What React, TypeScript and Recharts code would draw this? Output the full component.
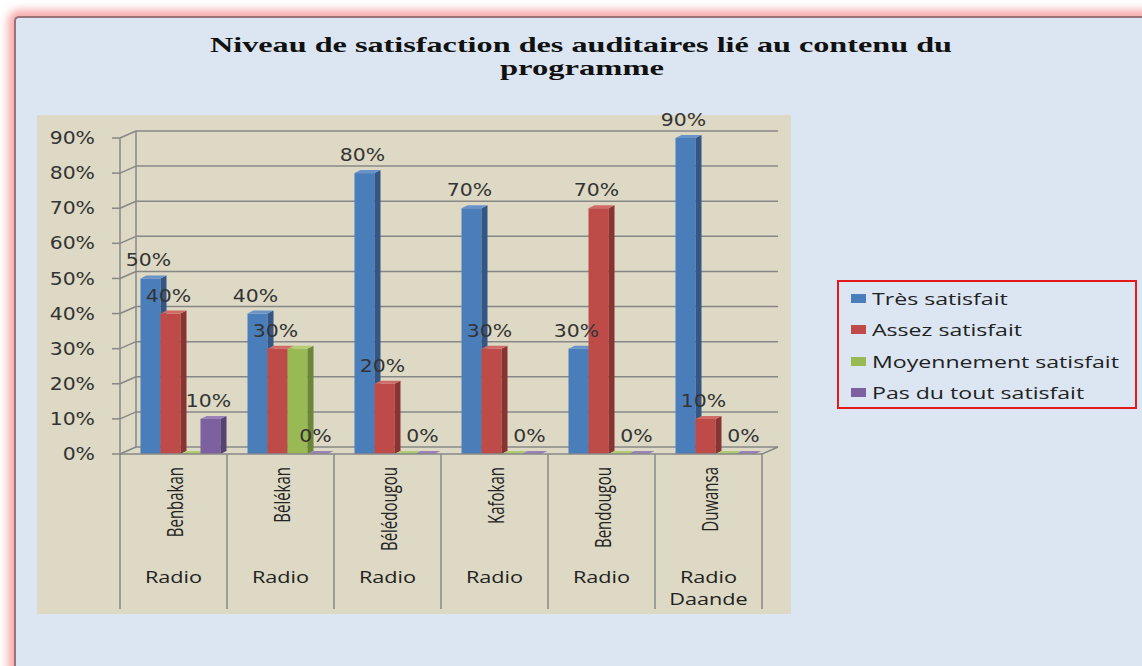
import React from 'react';
import { BarChart, Bar, XAxis, YAxis, CartesianGrid, LabelList } from 'recharts';

// ---- data ----
const categories = ['Benbakan', 'Bélékan', 'Bélédougou', 'Kafokan', 'Bendougou', 'Duwansa'];
const groupLabels = ['Radio', 'Radio', 'Radio', 'Radio', 'Radio', 'Radio Daande'];
const tresSatisfait = [50, 40, 80, 70, 30, 90];
const assezSatisfait = [40, 30, 20, 30, 70, 10];
const moyennementSatisfait = [0, 30, 0, 0, 0, 0];
const pasDuToutSatisfait = [10, 0, 0, 0, 0, 0];
const yTicks = [0, 10, 20, 30, 40, 50, 60, 70, 80, 90];
const seriesNames = ['Très satisfait', 'Assez satisfait', 'Moyennement satisfait', 'Pas du tout satisfait'];
const seriesKeys = ['tres', 'assez', 'moyen', 'pas'];
const titleLines = ['Niveau de satisfaction des auditaires lié au contenu du', 'programme'];

// ---- styles ----
const frontColors = ['#4a7ebb', '#be4b48', '#98b954', '#7d60a0'];
const sideColors = ['#335684', '#8a3432', '#6c8637', '#574373'];
const topColors = ['#6893c8', '#cf6a67', '#b2cc72', '#9a82b9'];
const labelSeries = [true, true, false, true];

const W = 1142;
const H = 666;
const PLOT_LEFT = 120;
const PLOT_RIGHT = 762;
const PLOT_TOP = 138;
const PLOT_BOTTOM = 454;
const DX = 16;
const DY = 7;
const YAXIS_W = 80;
const XAXIS_H = 160;
const BAR_SHIFT = 6.5;
const AXIS_COLOR = '#878787';
const STRETCH = 1.4;

const data = categories.map((c, i) => ({
  name: c,
  tres: tresSatisfait[i],
  assez: assezSatisfait[i],
  moyen: moyennementSatisfait[i],
  pas: pasDuToutSatisfait[i],
}));

const makeBar3D = (si: number) => (props: any) => {
  const { x, y, width, height } = props;
  if (x == null || y == null) return <g />;
  const bx = x + BAR_SHIFT;
  const d = 6;
  const dy = 3;
  const h = Math.max(0, height || 0);
  return (
    <g>
      <rect x={bx} y={y} width={width} height={h} fill={frontColors[si]} />
      <polygon
        points={`${bx + width},${y} ${bx + width + d},${y - dy} ${bx + width + d},${y + h - dy} ${bx + width},${y + h}`}
        fill={sideColors[si]}
      />
      <polygon
        points={`${bx},${y} ${bx + d},${y - dy} ${bx + width + d},${y - dy} ${bx + width},${y}`}
        fill={topColors[si]}
      />
    </g>
  );
};

const renderValueLabel = (p: any) => {
  const vb = p.viewBox || {};
  const x = p.x ?? vb.x;
  const y = p.y ?? vb.y;
  const w = p.width ?? vb.width;
  if (x == null || y == null) return null;
  const cx = x + w / 2 + BAR_SHIFT - 2;
  return (
    <text
      transform={`translate(${cx},${y - 12}) scale(1.2,1)`}
      textAnchor="middle"
      fontFamily="DejaVu Sans"
      fontSize={17}
      fill="#333"
    >{`${p.value}%`}</text>
  );
};

const YTick = (props: any) => {
  const { x, y, payload } = props;
  return (
    <text
      transform={`translate(${x},${y}) scale(1.2,1)`}
      textAnchor="end"
      dy="0.36em"
      fontFamily="DejaVu Sans"
      fontSize={17}
      fill="#333"
    >{`${payload.value}%`}</text>
  );
};

const XTick = (props: any) => {
  const { x, y, payload } = props;
  const idx = categories.indexOf(payload.value);
  const band = (PLOT_RIGHT - PLOT_LEFT) / categories.length;
  const group = (groupLabels[idx] || '').split(' ');
  const bottom = 609;
  return (
    <g>
      <line x1={x - band / 2} y1={y} x2={x - band / 2} y2={bottom} stroke={AXIS_COLOR} strokeWidth={1.5} />
      {idx === categories.length - 1 && (
        <line x1={x + band / 2} y1={y} x2={x + band / 2} y2={bottom} stroke={AXIS_COLOR} strokeWidth={1.5} />
      )}
      <text
        transform={`translate(${x + 1.5},${y + 13}) rotate(-90) scale(1,${STRETCH})`}
        textAnchor="end"
        dy="0.36em"
        fontFamily="Open Sans"
        fontSize={15}
        fill="#222"
      >{payload.value}</text>
      {group.map((g, k) => (
        <text
          key={k}
          transform={`translate(${x},${y + 129 + k * 22}) scale(${STRETCH},1)`}
          textAnchor="middle"
          fontFamily="Open Sans"
          fontSize={15.5}
          fill="#222"
        >
          {g}
        </text>
      ))}
    </g>
  );
};

const gridH = (p: any) => (
  <g key={p.key}>
    <line x1={p.x1} y1={p.y1} x2={p.x1 + DX} y2={p.y1 - DY} stroke={AXIS_COLOR} strokeWidth={1.5} />
    <line x1={p.x1 + DX} y1={p.y1 - DY} x2={p.x2 + DX} y2={p.y1 - DY} stroke={AXIS_COLOR} strokeWidth={1.5} />
    {Math.abs(p.y1 - PLOT_BOTTOM) < 1 && (
      <line x1={p.x2} y1={p.y1} x2={p.x2 + DX} y2={p.y1 - DY} stroke={AXIS_COLOR} strokeWidth={1.5} />
    )}
  </g>
);

const gridV = (p: any) => (
  <line key={p.key} x1={p.x1 + DX} y1={p.y1 - DY} x2={p.x2 + DX} y2={p.y2 - DY} stroke={AXIS_COLOR} strokeWidth={1.5} />
);

export default function App() {
  return (
    <div style={{ position: 'absolute', left: 0, top: 0, width: W, height: H, background: '#ffffff', overflow: 'hidden' }}>
      <div
        style={{
          position: 'absolute',
          left: 14,
          top: 16,
          width: W + 20,
          height: H + 20,
          background: '#dce6f2',
          borderLeft: '2px solid #9a7378',
          borderTop: '2px solid #9a7378',
          borderTopLeftRadius: 5,
          boxShadow: '0 0 8px 6px rgba(245,150,150,0.8)',
        }}
      />
      <div style={{ position: 'absolute', left: 37, top: 115, width: 754, height: 499, background: '#ddd9c4' }} />
      <svg width={W} height={H} style={{ position: 'absolute', left: 0, top: 0 }}>
        <text
          x={581}
          y={52}
          textAnchor="middle"
          fontFamily="Liberation Serif"
          fontWeight="bold"
          fontSize={22}
          textLength={742}
          lengthAdjust="spacingAndGlyphs"
          fill="#111"
        >{titleLines[0]}</text>
        <text
          x={582}
          y={75}
          textAnchor="middle"
          fontFamily="Liberation Serif"
          fontWeight="bold"
          fontSize={22}
          textLength={164}
          lengthAdjust="spacingAndGlyphs"
          fill="#111"
        >{titleLines[1]}</text>
      </svg>
      <div style={{ position: 'absolute', left: 0, top: 0 }}>
        <BarChart
          width={W}
          height={H}
          data={data}
          barGap={0}
          barSize={20}
          margin={{ top: PLOT_TOP, right: W - PLOT_RIGHT, bottom: H - PLOT_BOTTOM - XAXIS_H, left: PLOT_LEFT - YAXIS_W }}
        >
          <CartesianGrid
            horizontal={gridH}
            vertical={gridV}
            verticalCoordinatesGenerator={({ offset }: any) => [offset.left]}
          />
          <XAxis
            dataKey="name"
            height={XAXIS_H}
            tickSize={0}
            tickMargin={0}
            tickLine={false}
            axisLine={{ stroke: AXIS_COLOR, strokeWidth: 1.5 }}
            tick={<XTick />}
            interval={0}
          />
          <YAxis
            width={YAXIS_W}
            domain={[0, 90]}
            ticks={yTicks}
            tickSize={8}
            tickMargin={17}
            axisLine={{ stroke: AXIS_COLOR, strokeWidth: 1.5 }}
            tickLine={{ stroke: AXIS_COLOR, strokeWidth: 1.5 }}
            tick={<YTick />}
            interval={0}
          />
          {seriesKeys.map((k, si) => (
            <Bar key={k} dataKey={k} name={seriesNames[si]} fill={frontColors[si]} shape={makeBar3D(si)} isAnimationActive={false}>
              {labelSeries[si] && <LabelList dataKey={k} content={renderValueLabel} />}
            </Bar>
          ))}
        </BarChart>
      </div>
      <div
        style={{
          position: 'absolute',
          left: 837,
          top: 280,
          width: 296,
          height: 125,
          border: '2px solid #e3191c',
        }}
      >
        {seriesNames.map((n, i) => (
          <div key={n} style={{ position: 'absolute', left: 12, top: 6 + i * 31.5, height: 20, display: 'flex', alignItems: 'center' }}>
            <div style={{ width: 15, height: 9, background: frontColors[i], marginRight: 6 }} />
            <div
              style={{
                fontFamily: 'Open Sans',
                fontSize: 16.5,
                color: '#222',
                whiteSpace: 'nowrap',
                transform: 'scaleX(1.4)',
                transformOrigin: 'left center',
              }}
            >{n}</div>
          </div>
        ))}
      </div>
    </div>
  );
}
